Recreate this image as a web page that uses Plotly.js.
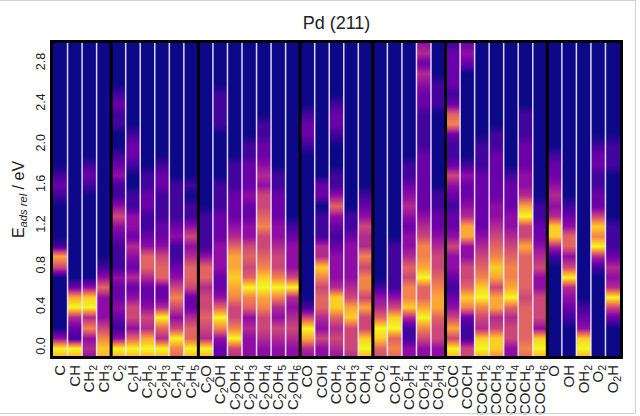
<!DOCTYPE html>
<html><head><meta charset="utf-8">
<script src="https://cdn.plot.ly/plotly-3.0.1.min.js"></script>
<style>html,body{margin:0;padding:0;background:#fff}#chart{width:640px;height:416px}</style>
</head><body><div id="chart"></div>
<script>
// Energy grid (eV) for the density samples
const energies = [-0.1,0.0,0.1,0.2,0.3,0.4,0.5,0.6,0.7,0.8,0.9,1.0,1.1,1.2,1.3,1.4,1.5,1.6,1.7,1.8,1.9,2.0,2.1,2.2,2.3,2.4,2.5,2.6,2.7,2.8,2.9,3.0];

const labels = ['C','CH','CH2','CH3','C2','C2H','C2H2','C2H3','C2H4','C2H5','C2O','C2OH','C2OH2','C2OH3','C2OH4','C2OH5','C2OH6','CO','COH','COH2','COH3','COH4','CO2','CO2H','CO2H2','CO2H3','CO2H4','COC','COCH','COCH2','COCH3','COCH4','COCH5','COCH6','O','OH','OH2','O2','O2H'];
const groupSizes = [4,6,7,5,5,7,5];
const yTicks = [0.0,0.4,0.8,1.2,1.6,2.0,2.4,2.8];

// density (0-10) per adsorbate along the energy grid
const groupC = [
 [8,10,3,0,0,0,0,0,0,5, 8,1,0,0,0,0,1,2,1,0, 0,0,0,0,0,0,0,0,0,0, 0,0],
 [8,10,1,2,4,10,8,2,0,0, 0,0,0,0,0,0,0,0,0,0, 0,0,0,0,0,0,0,0,0,0, 0,0],
 [3,4,3,7,4,10,9,3,0,0, 0,0,0,0,0,0,0,1,2,1, 0,0,0,0,0,0,0,0,0,0, 0,0],
 [8,9,7,5,3,3,3,6,3,1, 0,0,0,0,0,0,0,0,0,0, 0,0,0,0,0,0,0,0,0,0, 0,0]
];
const groupC2 = [
 [8,10,3,1,2,3,2,2,3,1, 1,1,2,3,5,3,1,1,3,2, 1,0,0,1,1,2,1,0,0,0, 0,0],
 [8,10,6,3,5,5,3,2,4,2, 3,4,2,3,3,1,1,0,0,1, 2,2,1,0,0,0,0,0,0,0, 0,0],
 [8,10,8,4,5,3,2,2,4,6, 6,3,2,1,1,2,2,1,1,0, 0,0,0,0,0,0,0,0,0,0, 0,0],
 [8,10,4,6,10,4,2,2,6,6, 5,3,2,2,1,1,1,2,2,1, 0,0,0,0,0,0,0,0,0,0, 0,0],
 [6,7,10,5,3,5,7,5,3,2, 1,1,3,2,1,1,1,1,0,0, 0,0,0,0,0,0,0,0,0,0, 0,0],
 [8,10,6,6,4,2,2,5,6,6, 4,3,5,3,1,1,0,1,0,0, 0,0,0,0,0,0,0,0,0,0, 0,0]
];
const groupC2O = [
 [8,10,4,5,6,5,5,4,6,6, 3,1,1,1,1,0,0,0,0,0, 0,0,0,0,0,0,0,0,0,0, 0,0],
 [2,2,3,7,10,6,3,2,2,3, 3,3,2,2,2,1,1,1,0,0, 0,0,0,1,1,1,1,0,0,0, 0,0],
 [4,5,10,7,5,5,7,8,9,8, 8,6,4,3,2,2,2,1,1,1, 0,0,0,0,0,0,0,0,0,0, 0,0],
 [3,3,3,4,3,6,7,10,6,5, 6,5,3,3,2,2,3,2,2,2, 1,1,0,0,0,0,0,0,0,0, 0,0],
 [3,3,4,5,5,7,8,10,9,7, 6,5,5,7,6,5,5,3,4,3, 2,2,1,1,0,0,0,0,0,0, 0,0],
 [3,3,4,5,3,4,7,10,7,5, 5,4,3,3,2,2,2,1,1,0, 0,0,0,0,0,0,0,0,0,0, 0,0],
 [3,3,4,5,4,3,4,10,5,3, 3,3,2,1,0,0,0,0,0,0, 0,0,0,0,0,0,0,0,0,0, 0,0]
];
const groupCO = [
 [3,4,8,10,5,1,0,0,0,0, 0,0,0,0,0,0,0,0,0,0, 0,1,2,2,1,0,0,0,0,0, 0,0],
 [3,3,5,3,4,6,6,5,7,9, 4,4,1,1,1,0,2,2,0,0, 0,0,0,0,0,0,0,0,0,0, 0,0],
 [3,4,5,4,6,9,9,4,3,3, 3,2,1,2,3,6,3,1,1,0, 0,0,1,2,2,1,0,0,0,0, 0,0],
 [4,5,5,5,9,8,5,4,3,3, 3,3,2,1,1,0,0,0,0,0, 0,0,0,0,0,0,0,0,0,0, 0,0],
 [8,10,9,5,5,8,5,7,7,5, 7,4,4,5,3,2,1,0,0,0, 0,0,0,0,0,0,0,0,0,0, 0,0]
];
const groupCO2 = [
 [5,6,9,10,6,4,3,1,0,0, 0,0,0,0,0,0,0,0,0,0, 0,0,0,0,0,0,0,0,0,0, 0,0],
 [6,7,6,10,9,5,3,1,1,1, 1,1,0,0,0,0,0,0,0,0, 0,0,0,0,0,0,0,0,0,0, 0,0],
 [3,3,1,1,4,9,7,7,5,6, 4,3,3,2,3,4,3,2,1,1, 0,0,0,0,0,0,0,0,0,0, 0,0],
 [3,3,5,7,10,8,6,6,10,8, 7,7,5,4,3,2,2,2,2,2, 2,1,1,1,1,2,2,3,4,2, 4,3],
 [3,3,5,5,6,8,8,7,6,5, 5,4,3,2,2,1,1,0,0,0, 0,0,0,0,0,1,1,1,0,0, 0,0]
];
const groupCOC = [
 [8,10,5,8,5,3,2,1,2,3, 3,5,3,2,2,1,2,3,5,2, 1,1,2,7,6,2,1,2,2,2, 2,1],
 [5,5,1,1,2,7,9,6,5,5, 3,3,8,8,4,3,2,2,3,1, 0,0,0,0,0,0,0,0,0,2, 3,2],
 [8,10,9,4,5,7,10,9,7,6, 5,4,3,2,2,2,2,2,2,1, 1,1,0,0,0,0,0,0,0,0, 0,0],
 [7,9,9,5,4,8,8,5,8,9, 7,6,5,4,3,3,2,2,2,2, 2,1,1,0,0,0,0,0,0,0, 0,0],
 [3,3,5,5,4,6,10,8,7,7, 6,5,4,3,3,2,2,2,1,0, 0,0,0,0,0,0,0,0,0,0, 0,0],
 [6,7,6,6,6,6,5,6,6,6, 6,8,5,5,10,8,4,3,3,2, 2,2,1,1,1,0,0,0,0,0, 0,0],
 [8,10,9,3,5,5,5,3,3,5, 4,3,2,2,1,1,0,0,0,0, 0,0,0,0,0,0,0,0,0,0, 0,0]
];
const groupO = [
 [0,0,0,0,0,0,0,0,0,0, 1,4,9,9,4,3,4,3,2,2, 1,0,0,0,0,0,0,0,0,0, 0,0],
 [0,0,0,0,1,2,3,4,10,5, 3,6,6,3,2,1,0,0,0,0, 0,0,0,0,0,0,0,0,0,0, 0,0],
 [8,10,9,3,2,1,0,0,0,0, 0,0,0,0,0,0,0,0,0,0, 0,0,0,0,0,0,0,0,0,0, 0,0],
 [0,0,0,0,0,0,0,0,0,1, 4,10,7,9,5,2,2,1,1,2, 2,1,0,0,0,0,0,0,0,0, 0,0],
 [0,0,0,0,2,5,10,4,3,4, 2,1,1,1,0,0,0,0,0,1, 1,1,0,0,0,0,0,0,0,0, 0,0]
];

const plasma = [
  [0.0,'#0d0887'],[0.1,'#41049d'],[0.2,'#6a00a8'],[0.3,'#8f0da4'],[0.4,'#b12a90'],
  [0.5,'#cc4778'],[0.6,'#e16462'],[0.7,'#f2844b'],[0.8,'#fca636'],[0.9,'#fcce25'],[1.0,'#f0f921']
];

const columns = [].concat(groupC, groupC2, groupC2O, groupCO, groupCO2, groupCOC, groupO);
const FONT = 'Liberation Sans, Arial, sans-serif';

const traces = columns.map((col, i) => ({
  type: 'heatmap',
  x: [i - 0.25, i + 0.25],
  y: energies,
  z: col.map(v => [v, v]),
  zmin: 0, zmax: 10,
  colorscale: plasma,
  zsmooth: 'best',
  showscale: false,
  hoverinfo: 'skip'
}));

const tickHtml = labels.map(s => s.replace(/(\d)/g, '<sub>$1</sub>'));

const shapes = [];
const groupEnds = new Set();
let acc = 0;
groupSizes.forEach(n => { acc += n; groupEnds.add(acc - 1); });
for (let i = 0; i < columns.length - 1; i++) {
  const isGroup = groupEnds.has(i);
  shapes.push({
    type: 'line', xref: 'x', yref: 'paper', x0: i + 0.5, x1: i + 0.5, y0: 0, y1: 1,
    line: { color: isGroup ? '#000000' : 'rgba(232,232,255,0.92)', width: isGroup ? 3 : 1.5 },
    layer: 'above'
  });
}
// light frame around the figure
shapes.push({type:'rect', xref:'paper', yref:'paper', x0:-53.5/567, x1:(635.5-53)/567, y0:(356-413.5)/313, y1:(356-0.5)/313, line:{color:'#d0d0d0', width:1}, layer:'above'});

const layout = {
  width: 640, height: 416,
  margin: { l: 53, r: 20, t: 43, b: 60 },
  paper_bgcolor: '#ffffff',
  plot_bgcolor: '#0d0887',
  showlegend: false,
  title: { text: 'Pd (211)', x: 0.5, xref: 'paper', xanchor: 'center', y: 1 - 23/416, yanchor: 'middle',
           font: { family: FONT, size: 18, color: '#222' } },
  xaxis: {
    range: [-0.5, columns.length - 0.5],
    tickmode: 'array', tickvals: labels.map((_, i) => i), ticktext: tickHtml,
    tickangle: -90, ticks: '', showgrid: false, zeroline: false,
    showline: true, mirror: true, linewidth: 3, linecolor: '#000',
    tickfont: { family: FONT, size: 15, color: '#222' }
  },
  yaxis: {
    range: [-0.08, 3.0],
    tickmode: 'array', tickvals: yTicks, ticktext: yTicks.map(v => v.toFixed(1)),
    tickangle: -90, ticks: '', showgrid: false, zeroline: false,
    showline: true, mirror: true, linewidth: 3, linecolor: '#000',
    tickfont: { family: FONT, size: 12.5, color: '#222' },
    title: { text: 'E<sub><i>ads rel</i></sub> / eV', standoff: 6, font: { family: FONT, size: 16, color: '#222' } }
  },
  shapes: shapes
};

Plotly.newPlot('chart', traces, layout, { displayModeBar: false, staticPlot: true });
</script>
</body></html>
